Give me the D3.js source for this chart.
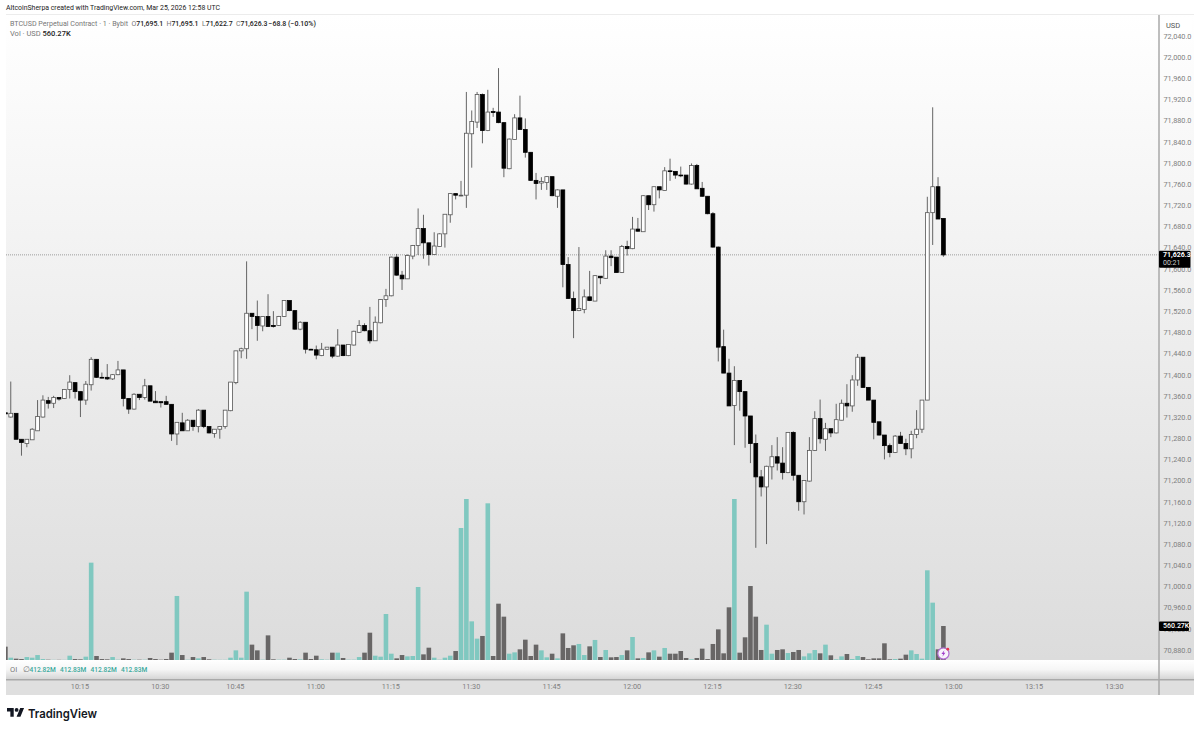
<!DOCTYPE html>
<html>
<head>
<meta charset="utf-8">
<script src="https://cdn.jsdelivr.net/npm/d3@7"></script>
<style>
  html, body { margin: 0; padding: 0; background: #fff; }
  text { font-family: Roboto, sans-serif; }
</style>
</head>
<body>
<div id="chart"></div>
<script>
// 1 minute bars, first one is cut by the left edge of the pane
const opens = [
  71328,71320,71327,71278,71270,71277,71294,71320,71351,71346,
  71357,71355,71372,71385,71368,71352,71381,71429,71395,71395,
  71392,71400,71409,71355,71335,71363,71357,71379,71350,71349,
  71349,71344,71288,71309,71294,71314,71302,71333,71302,71289,
  71297,71302,71332,71385,71445,71449,71516,71510,71492,71510,
  71493,71493,71510,71540,71521,71486,71499,71448,71447,71436,
  71448,71452,71435,71456,71436,71456,71480,71493,71483,71464,
  71498,71542,71549,71622,71588,71581,71624,71644,71676,71649,
  71627,71642,71666,71702,71742,71738,71739,71855,71877,71929,
  71861,71897,71896,71876,71789,71844,71885,71863,71820,71767,
  71762,71763,71774,71737,71749,71608,71544,71521,71523,71547,
  71539,71586,71582,71624,71622,71593,71642,71638,71675,71670,
  71738,71721,71755,71748,71785,71784,71777,71777,71760,71795,
  71752,71737,71704,71641,71453,71403,71342,71389,71368,71322,
  71270,71207,71188,71226,71245,71233,71215,71291,71210,71160,
  71199,71257,71317,71278,71298,71290,71314,71346,71341,71390,
  71433,71376,71352,71311,71286,71266,71253,71284,71270,71260,
  71287,71297,71352,71706,71755,71695.1
];
const highs = [
  71340,71387,71327,71278,71278,71299,71352,71361,71358,71360,
  71357,71372,71399,71385,71368,71388,71433,71429,71404,71420,
  71401,71426,71409,71355,71365,71363,71392,71379,71369,71349,
  71360,71344,71310,71328,71316,71314,71335,71333,71302,71297,
  71303,71333,71386,71445,71451,71614,71516,71540,71510,71552,
  71520,71511,71541,71540,71521,71501,71499,71449,71455,71460,
  71452,71452,71486,71456,71457,71483,71503,71497,71528,71510,
  71542,71562,71623,71628,71596,71627,71645,71714,71702,71649,
  71669,71667,71703,71742,71742,71766,71934,71899,71934,71931,
  71938,71904,71979,71877,71846,71892,71927,71884,71820,71781,
  71773,71775,71774,71750,71749,71622,71557,71641,71561,71596,
  71588,71586,71635,71635,71622,71645,71653,71698,71696,71739,
  71738,71755,71755,71792,71808,71784,71793,71777,71799,71798,
  71764,71737,71707,71642,71485,71430,71416,71389,71368,71322,
  71287,71220,71228,71267,71282,71263,71291,71293,71210,71201,
  71282,71331,71353,71309,71298,71345,71353,71382,71399,71439,
  71433,71376,71352,71311,71286,71270,71286,71292,71279,71294,
  71333,71352,71736,71905,71773,71695.1
];
const lows = [
  71319,71319,71278,71247,71263,71277,71294,71319,71336,71337,
  71351,71354,71355,71355,71320,71343,71370,71394,71393,71390,
  71390,71399,71340,71326,71334,71352,71353,71350,71347,71338,
  71343,71275,71267,71294,71294,71294,71291,71299,71289,71281,
  71279,71298,71331,71382,71431,71430,71486,71464,71482,71490,
  71489,71492,71509,71520,71485,71484,71440,71447,71429,71435,
  71447,71431,71434,71435,71435,71455,71479,71482,71459,71464,
  71497,71528,71548,71587,71560,71581,71618,71626,71619,71606,
  71627,71642,71640,71687,71731,71737,71715,71791,71866,71837,
  71860,71887,71875,71773,71788,71844,71863,71810,71766,71731,
  71749,71749,71737,71715,71565,71543,71469,71520,71516,71539,
  71539,71571,71581,71605,71593,71592,71625,71637,71670,71670,
  71711,71708,71733,71748,71766,71770,71773,71759,71759,71751,
  71736,71703,71640,71425,71403,71341,71267,71332,71262,71233,
  71073,71170,71080,71202,71219,71202,71214,71200,71143,71136,
  71198,71256,71270,71256,71282,71289,71314,71319,71330,71379,
  71375,71352,71278,71285,71240,71244,71252,71270,71248,71242,
  71280,71290,71352,71645,71694,71622.7
];
const closes = [
  71326,71327,71278,71272,71278,71297,71321,71352,71346,71357,
  71354,71372,71386,71368,71352,71382,71429,71395,71394,71392,
  71400,71409,71355,71335,71363,71357,71379,71350,71347,71347,
  71344,71288,71310,71294,71314,71302,71333,71302,71290,71297,
  71302,71333,71386,71445,71449,71516,71510,71493,71510,71491,
  71491,71510,71540,71521,71486,71499,71448,71447,71437,71448,
  71452,71435,71456,71436,71457,71482,71493,71483,71464,71499,
  71542,71549,71622,71588,71581,71625,71644,71676,71649,71627,
  71643,71666,71703,71742,71739,71739,71856,71878,71929,71861,
  71896,71895,71876,71790,71845,71885,71863,71820,71767,71761,
  71765,71774,71738,71749,71608,71544,71521,71525,71547,71540,
  71587,71583,71624,71621,71593,71642,71638,71675,71671,71738,
  71721,71755,71749,71785,71784,71777,71776,71760,71795,71751,
  71737,71704,71641,71452,71403,71341,71389,71368,71322,71270,
  71207,71188,71227,71245,71233,71215,71291,71210,71160,71200,
  71257,71317,71279,71298,71290,71315,71346,71341,71390,71433,
  71376,71352,71310,71286,71266,71253,71284,71270,71260,71287,
  71297,71352,71706,71755,71694,71626.3
];
// volume in thousands of USD
const volumes = [
  220,38,22,16,49,38,82,16,5,3,
  3,3,71,16,11,55,1604,66,16,11,
  49,5,27,16,5,5,5,33,16,5,
  16,121,1055,82,5,49,27,49,11,5,
  3,3,38,159,38,1126,253,159,5,406,
  11,5,5,38,16,11,121,16,71,11,
  5,121,121,33,5,5,49,121,450,71,
  55,758,104,27,82,60,66,1203,93,203,
  38,5,38,71,148,2175,2653,637,352,396,
  2582,66,928,714,104,126,176,335,66,253,
  159,44,104,27,439,198,242,264,82,225,
  330,49,165,44,49,82,159,379,27,33,
  126,159,55,198,104,104,148,33,11,33,
  187,16,264,505,110,868,2653,121,374,1219,
  714,165,582,104,165,176,115,132,165,60,
  110,165,110,253,77,11,60,99,16,66,
  49,11,27,27,275,11,16,22,88,159,
  99,22,1478,945,176,560.27
];

const priceTicks = d3.range(70880, 72041, 40);
const timeTickBars = [14, 29, 43, 58, 72, 87, 102, 117, 132, 147, 162, 177, 192, 207];
const timeLabels = ["10:15", "10:30", "10:45", "11:00", "11:15", "11:30", "11:45",
  "12:00", "12:15", "12:30", "12:45", "13:00", "13:15", "13:30"];
const lastPrice = 71626.3;
const lastVolume = 560.27;
const oiValues = ["412.82M", "412.83M", "412.82M", "412.83M"];

const pane = { left: 6, right: 1159, top: 15, bottom: 660, stripBottom: 679, axisBottom: 695, outer: 1194 };

const svg = d3.select("#chart").append("svg")
    .attr("width", 1200)
    .attr("height", 730)
    .style("display", "block");

const defs = svg.append("defs");
const bg = defs.append("linearGradient").attr("id", "bg").attr("x1", 0).attr("y1", 0).attr("x2", 0).attr("y2", 1);
bg.append("stop").attr("offset", "0%").attr("stop-color", "#ffffff");
bg.append("stop").attr("offset", "100%").attr("stop-color", "#dcdcdc");
const strip = defs.append("linearGradient").attr("id", "strip").attr("x1", 0).attr("y1", 0).attr("x2", 0).attr("y2", 1);
strip.append("stop").attr("offset", "0%").attr("stop-color", "#ffffff");
strip.append("stop").attr("offset", "50%").attr("stop-color", "#f6f6f6");
strip.append("stop").attr("offset", "100%").attr("stop-color", "#d6d6d6");
defs.append("clipPath").attr("id", "plot").append("rect")
    .attr("x", pane.left).attr("y", pane.top)
    .attr("width", pane.right - pane.left).attr("height", pane.bottom - pane.top);

const x = d3.scaleLinear().domain([0, 175]).range([5.4, 943.4]);
const y = d3.scaleLinear().domain([70880, 72000]).range([650, 57]);
const yVol = d3.scaleLinear().domain([0, 2653]).range([660, 499]);

// backgrounds
svg.append("rect").attr("x", pane.left).attr("y", pane.top)
    .attr("width", pane.outer - pane.left).attr("height", pane.bottom - pane.top)
    .attr("fill", "url(#bg)");
svg.append("rect").attr("x", pane.left).attr("y", pane.bottom)
    .attr("width", pane.outer - pane.left).attr("height", pane.stripBottom - pane.bottom)
    .attr("fill", "url(#strip)");
svg.append("rect").attr("x", pane.left).attr("y", pane.stripBottom)
    .attr("width", pane.outer - pane.left).attr("height", pane.axisBottom - pane.stripBottom)
    .attr("fill", "#dfdfdf");
svg.append("line").attr("x1", pane.left).attr("x2", pane.outer)
    .attr("y1", 14.5).attr("y2", 14.5).attr("stroke", "#ececec");
svg.append("line").attr("x1", pane.left).attr("x2", pane.outer)
    .attr("y1", pane.stripBottom + 0.7).attr("y2", pane.stripBottom + 0.7)
    .attr("stroke", "#a9a9a9").attr("stroke-width", 1.5);

const bars = d3.range(opens.length).map(i => ({
    i, o: opens[i], h: highs[i], l: lows[i], c: closes[i], v: volumes[i], up: closes[i] >= opens[i]
}));

const plot = svg.append("g").attr("clip-path", "url(#plot)");

// volume
plot.selectAll(".vol").data(bars).enter().append("rect")
    .attr("class", "vol")
    .attr("x", d => x(d.i) - 2.3)
    .attr("width", 4.6)
    .attr("y", d => yVol(d.v))
    .attr("height", d => yVol(0) - yVol(d.v))
    .attr("fill", d => d.up ? "#80c8c0" : "#686666");

// last price line
plot.append("line").attr("x1", pane.left).attr("x2", pane.right)
    .attr("y1", y(lastPrice)).attr("y2", y(lastPrice))
    .attr("stroke", "#777").attr("stroke-width", 0.7).attr("stroke-dasharray", "1 1");

// candles
plot.selectAll(".wick").data(bars).enter().append("line")
    .attr("class", "wick")
    .attr("x1", d => x(d.i)).attr("x2", d => x(d.i))
    .attr("y1", d => y(d.h)).attr("y2", d => y(d.l))
    .attr("stroke", "#555").attr("stroke-width", 0.9);

plot.selectAll(".body").data(bars).enter().append("rect")
    .attr("class", "body")
    .attr("x", d => x(d.i) - 1.9)
    .attr("width", 3.8)
    .attr("y", d => y(Math.max(d.o, d.c)))
    .attr("height", d => Math.max(y(Math.min(d.o, d.c)) - y(Math.max(d.o, d.c)), 0.8))
    .attr("fill", d => d.up ? "#fff" : "#000")
    .attr("stroke", d => d.up ? "#555" : "#000")
    .attr("stroke-width", 0.8);

// price axis
const yAxis = svg.append("g")
    .attr("transform", `translate(${pane.right},0)`)
    .call(d3.axisRight(y).tickValues(priceTicks).tickSize(0).tickPadding(4.5).tickFormat(d3.format(",.1f")));
yAxis.select(".domain").remove();
yAxis.selectAll("text").attr("fill", "#808080").style("font-size", "7.3px").style("font-family", "Roboto, sans-serif");

// time axis
const xAxis = svg.append("g")
    .attr("transform", `translate(-1,${pane.stripBottom + 4})`)
    .call(d3.axisBottom(x).tickValues(timeTickBars).tickSize(0).tickPadding(1).tickFormat((d, i) => timeLabels[i]));
xAxis.select(".domain").remove();
xAxis.selectAll("text").attr("fill", "#808080").style("font-size", "7.3px").style("font-family", "Roboto, sans-serif");

svg.append("line").attr("x1", pane.right).attr("x2", pane.right)
    .attr("y1", pane.top).attr("y2", pane.axisBottom)
    .attr("stroke", "#a9a9a9").attr("stroke-width", 1.5);

// USD box
svg.append("rect").attr("x", 1162).attr("y", 18).attr("width", 30).attr("height", 14).attr("rx", 2).attr("fill", "#fff");
svg.append("text").attr("x", 1166).attr("y", 28).attr("font-size", 7.5).attr("fill", "#555").text("USD");

// last price tag
const priceF = d3.format(",.1f");
svg.append("rect").attr("x", pane.right).attr("y", y(lastPrice) - 4).attr("width", 31.5).attr("height", 17).attr("rx", 1).attr("fill", "#000");
svg.append("text").attr("x", 1163).attr("y", y(lastPrice) + 2.5).attr("font-size", 7).attr("font-weight", 700).attr("fill", "#fff").text(priceF(lastPrice));
svg.append("text").attr("x", 1163).attr("y", y(lastPrice) + 10.5).attr("font-size", 7).attr("fill", "#ccc").text("00:21");

// last volume tag
svg.append("rect").attr("x", pane.right).attr("y", yVol(lastVolume) - 4.5).attr("width", 30).attr("height", 9.5).attr("rx", 1).attr("fill", "#000");
svg.append("text").attr("x", 1163).attr("y", yVol(lastVolume) + 2.5).attr("font-size", 7).attr("font-weight", 500).attr("fill", "#fff").text(d3.format(".2f")(lastVolume) + "K");

// header + legend
svg.append("text").attr("x", 6).attr("y", 10).attr("font-size", 7.4).attr("fill", "#222")
    .attr("textLength", 214).attr("lengthAdjust", "spacingAndGlyphs")
    .text("AltcoinSherpa created with TradingView.com, Mar 25, 2026 12:58 UTC");

const legend = svg.append("g").attr("font-size", 7.5).attr("fill", "#777");
legend.append("text").attr("x", 10).attr("y", 26)
    .attr("textLength", 118).attr("lengthAdjust", "spacingAndGlyphs")
    .text("BTCUSD Perpetual Contract · 1 · Bybit");
[["O", "71,695.1", 131.5], ["H", "71,695.1", 166.5], ["L", "71,622.7", 202], ["C", "71,626.3", 236]].forEach(d => {
    const t = legend.append("text").attr("x", d[2]).attr("y", 26).attr("font-size", 6.9);
    t.append("tspan").text(d[0]);
    t.append("tspan").attr("fill", "#222").attr("font-weight", 500).text(d[1]);
});
legend.append("text").attr("x", 268.5).attr("y", 26).attr("font-size", 7).attr("fill", "#222").attr("font-weight", 500).text("−68.8 (−0.10%)");
legend.append("text").attr("x", 10).attr("y", 35.5).text("Vol · USD");
legend.append("text").attr("x", 42.5).attr("y", 35.5).attr("fill", "#222").attr("font-weight", 500).text("560.27K");

// OI row
const oi = svg.append("g").attr("font-size", 7.5);
oi.append("text").attr("x", 10).attr("y", 672).attr("fill", "#777").text("OI");
oi.append("text").attr("x", 22.5).attr("y", 672).attr("fill", "#777").text("∅");
oi.selectAll(".oi").data(oiValues).enter().append("text")
    .attr("class", "oi")
    .attr("x", (d, i) => 29.5 + i * 30.5)
    .attr("y", 672)
    .attr("fill", "#3aa99c")
    .attr("font-size", 6.6)
    .attr("font-weight", 500)
    .text(d => d);

// little purple badge on the last bar
const badge = svg.append("g").attr("transform", `translate(${x(175)},653.5)`);
badge.append("circle").attr("r", 5.6).attr("fill", "#f7f2fb").attr("stroke", "#b06ad0").attr("stroke-width", 1.2);
badge.append("path").attr("d", "M1 -3.2 L-2 0.6 L-0.2 0.6 L-1 3.2 L2 -0.8 L0.2 -0.8 Z").attr("fill", "#a03cc8");
badge.append("circle").attr("cx", 4.4).attr("cy", -4.3).attr("r", 1.4).attr("fill", "#e8344a");

// footer logo
const logo = svg.append("g").attr("transform", "translate(7,706.1) scale(0.48)").attr("fill", "#131722");
logo.append("path").attr("d", "M14 22H7V11H0V4h14v18zM28 22h-8l7.5-18h8L28 22z");
logo.append("circle").attr("cx", 20).attr("cy", 8).attr("r", 4);
svg.append("text").attr("x", 28).attr("y", 718).attr("font-size", 12.4).attr("font-weight", 600)
    .attr("textLength", 69).attr("lengthAdjust", "spacingAndGlyphs")
    .attr("fill", "#131722").style("font-family", "Inter, sans-serif").text("TradingView");
</script>
</body>
</html>
